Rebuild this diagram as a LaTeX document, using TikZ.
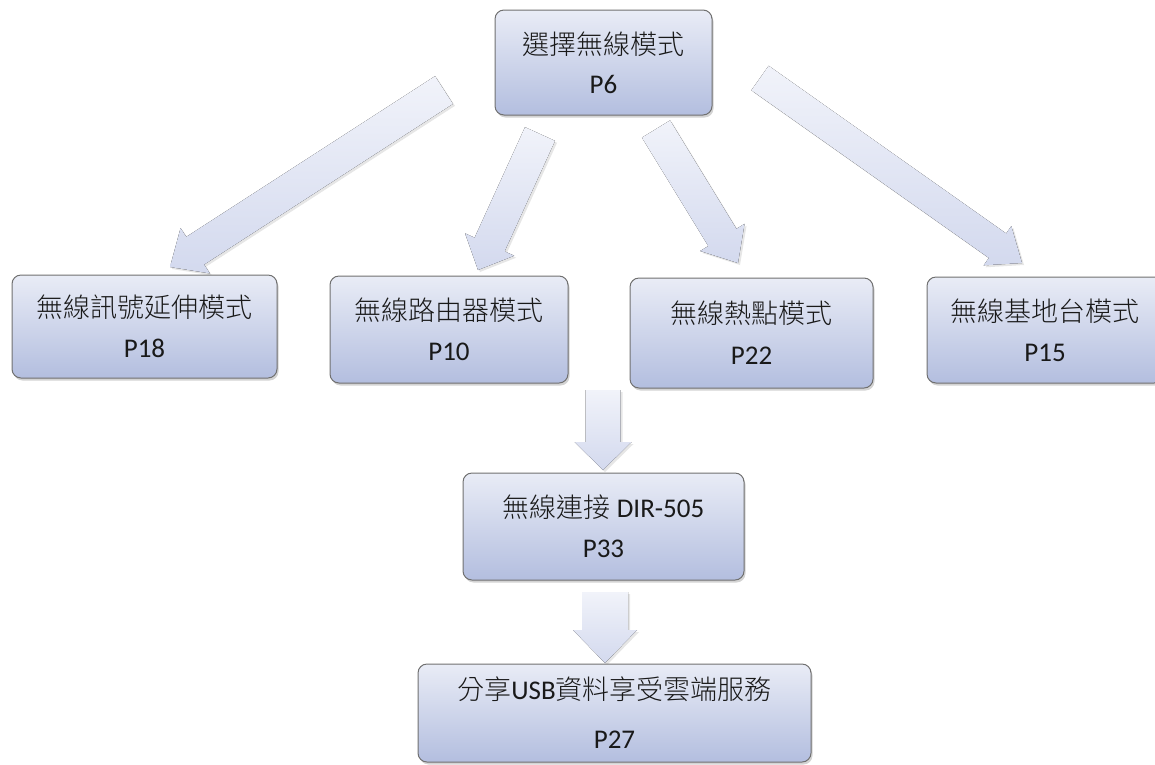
\documentclass[tikz,border=0pt]{standalone}
\usepackage{fontspec}
\setmainfont{Carlito}
\newfontfamily\cjk{Noto Sans CJK TC Light}
\usetikzlibrary{calc,shadows}

\definecolor{boxtop}{HTML}{E9ECF6}
\definecolor{boxbottom}{HTML}{B3BEDF}
\definecolor{boxline}{HTML}{707070}
\definecolor{arrowtop}{HTML}{F1F3FA}
\definecolor{arrowbottom}{HTML}{D3D9EE}

\newcommand{\pagenumfont}{\fontsize{27}{32}\selectfont}

\tikzset{
	modebox/.style={draw=boxline, line width=1pt, rounded corners=9pt,
		top color=boxtop, bottom color=boxbottom, align=center, text=black!90,
		font=\fontsize{27}{32}\selectfont,
		drop shadow={shadow xshift=1.5pt, shadow yshift=-2.5pt, opacity=0.35}},
	flowarrow/.style={top color=arrowtop, bottom color=arrowbottom,
		drop shadow={shadow xshift=2pt, shadow yshift=-2pt, opacity=0.2}},
}

% wide arrow: from, to, half shaft, half head, head length
\newcommand{\blockarrow}[5]{%
	\coordinate (#1-base) at ($(#2)!#5!(#1)$);
	\fill[flowarrow] ($(#1)!#3!90:(#2)$) -- ($(#1-base)!#3!90:(#2)$)
		-- ($(#1-base)!#4!90:(#2)$) -- (#2) -- ($(#1-base)!#4!-90:(#2)$)
		-- ($(#1-base)!#3!-90:(#2)$) -- ($(#1)!#3!-90:(#2)$) -- cycle;
}

\begin{document}
\begin{tikzpicture}[x=1pt, y=-1pt]
	\path[use as bounding box, clip] (0,0) rectangle (1155,764);

	% arrow ends
	\coordinate (t1) at (444,90);   \coordinate (h1) at (170,267);
	\coordinate (t2) at (540,134);  \coordinate (h2) at (478,270);
	\coordinate (t3) at (656,129);  \coordinate (h3) at (738,263);
	\coordinate (t4) at (760,78);   \coordinate (h4) at (1022,263);
	\coordinate (t5) at (603,390);  \coordinate (h5) at (603,470);
	\coordinate (t6) at (605,592);  \coordinate (h6) at (605,663);

	\blockarrow{t1}{h1}{16.5pt}{27pt}{30pt}
	\blockarrow{t2}{h2}{16.5pt}{27pt}{28pt}
	\blockarrow{t3}{h3}{16.5pt}{26pt}{30pt}
	\blockarrow{t4}{h4}{15pt}{24pt}{30pt}
	\blockarrow{t5}{h5}{17.5pt}{28.5pt}{28pt}
	\blockarrow{t6}{h6}{23pt}{32pt}{33pt}

	\node[modebox, minimum width=217pt, minimum height=105pt] (mode) at (603.5,62.5)
		{{\cjk 選擇無線模式}\\[7pt]{\pagenumfont P6}};

	\node[modebox, minimum width=265pt, minimum height=103pt] (repeater) at (144.5,326.5)
		{{\cjk 無線訊號延伸模式}\\[8pt]{\pagenumfont P18}};
	\node[modebox, minimum width=238pt, minimum height=107pt] (router) at (449,329.5)
		{{\cjk 無線路由器模式}\\[8pt]{\pagenumfont P10}};
	\node[modebox, minimum width=243pt, minimum height=110pt] (hotspot) at (751.5,333)
		{{\cjk 無線熱點模式}\\[9pt]{\pagenumfont P22}};
	\node[modebox, minimum width=236pt, minimum height=106pt] (ap) at (1045,330)
		{{\cjk 無線基地台模式}\\[8pt]{\pagenumfont P15}};

	\node[modebox, minimum width=281pt, minimum height=107pt] (connect) at (603.5,526.5)
		{{\cjk 無線連接} DIR-505\\[8pt]{\pagenumfont P33}};

	\node[modebox, minimum width=393pt, minimum height=98pt] (share) at (614.5,713)
		{{\cjk 分享}USB{\cjk 資料享受雲端服務}\\[17pt]{\pagenumfont P27}};
\end{tikzpicture}
\end{document}
